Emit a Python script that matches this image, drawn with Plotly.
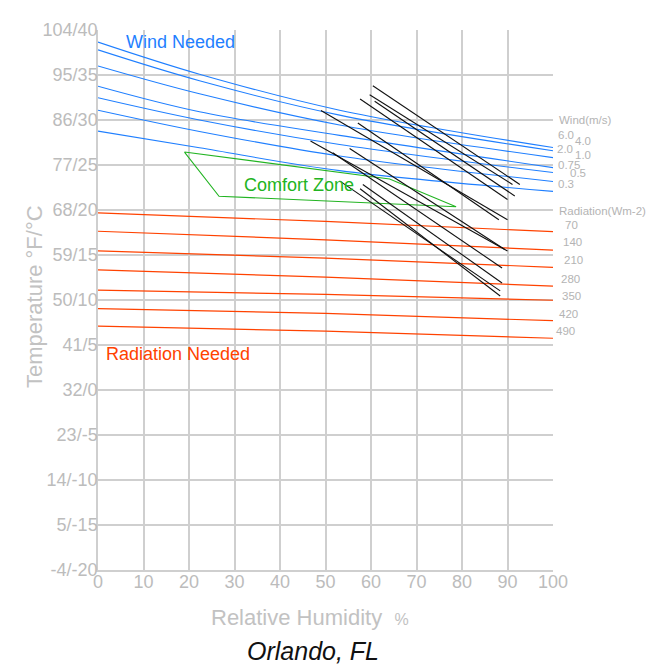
import plotly.graph_objects as go

# ---------------- data ----------------
# wind lines (m/s): temperature (degC) read at relative humidity points
wind_rh = [0, 22.3, 53.1, 100]
wind_labels = ["6.0", "4.0", "2.0", "1.0", "0.75", "0.5", "0.3"]
wind_temps = [
    [38.66, 35.09, 31.09, 26.94],
    [37.79, 34.36, 30.54, 26.58],
    [36.00, 32.91, 29.45, 25.82],
    [33.75, 30.91, 28.29, 24.71],
    [32.47, 30.00, 27.27, 24.16],
    [31.09, 28.73, 26.00, 23.17],
    [28.76, 26.91, 24.37, 22.07],
]

# radiation lines (W/m2)
rad_rh = [0, 50, 100]
rad_labels = ["70", "140", "210", "280", "350", "420", "490"]
rad_temps = [
    [19.68, 18.73, 17.59],
    [17.64, 16.69, 15.54],
    [15.45, 14.66, 13.63],
    [13.35, 12.54, 11.55],
    [11.09, 10.62, 9.97],
    [9.05, 8.51, 7.70],
    [7.09, 6.54, 5.75],
]

# comfort zone polygon
comfort_rh = [19.0, 64.1, 78.7, 26.6, 19.0]
comfort_t = [26.44, 23.45, 20.36, 21.53, 26.44]

# monthly climate lines: (RH min, T max) -> (RH max, T min)
months = ["Jan", "Feb", "Mar", "Apr", "May", "Jun",
          "Jul", "Aug", "Sep", "Oct", "Nov", "Dec"]
rh_min = [57.6, 53.1, 51.6, 46.7, 49.0, 57.6, 59.7, 60.4, 60.8, 57.1, 55.3, 58.2]
t_max = [22.36, 23.24, 26.36, 27.67, 31.05, 32.33, 32.81, 33.80, 32.08, 29.66, 26.83, 22.84]
rh_max = [88.4, 88.4, 88.8, 90.0, 90.0, 90.0, 91.1, 92.7, 91.6, 88.1, 89.4, 88.8]
t_min = [10.44, 11.01, 13.56, 15.45, 18.91, 21.16, 22.84, 22.84, 21.56, 18.91, 15.62, 11.89]

y_tickvals = [-20, -15, -10, -5, 0, 5, 10, 15, 20, 25, 30, 35, 40]
y_ticktext = ["-4/-20", "5/-15", "14/-10", "23/-5", "32/0", "41/5", "50/10",
              "59/15", "68/20", "77/25", "86/30", "95/35", "104/40"]
x_tickvals = [0, 10, 20, 30, 40, 50, 60, 70, 80, 90, 100]

# ---------------- styling ----------------
BLUE = "#1f7fff"
RED = "#ff4200"
GREEN = "#22b422"
GRID = "#cfcfcf"
TICK = "#bcbcbc"
LAB = "#b4b4b4"
FONT = "Liberation Sans, Arial, sans-serif"

fig = go.Figure()

for lab, temps in zip(wind_labels, wind_temps):
    fig.add_trace(go.Scatter(x=wind_rh, y=temps, mode="lines", name=lab,
                             line=dict(color=BLUE, width=1.1, shape="spline"),
                             hoverinfo="skip"))

for lab, temps in zip(rad_labels, rad_temps):
    fig.add_trace(go.Scatter(x=rad_rh, y=temps, mode="lines", name=lab,
                             line=dict(color=RED, width=1.2, shape="spline"),
                             hoverinfo="skip"))

fig.add_trace(go.Scatter(x=comfort_rh, y=comfort_t, mode="lines",
                         line=dict(color=GREEN, width=1.1), hoverinfo="skip"))

for i, m in enumerate(months):
    fig.add_trace(go.Scatter(x=[rh_min[i], rh_max[i]], y=[t_max[i], t_min[i]],
                             mode="lines", name=m,
                             line=dict(color="#111111", width=1.1),
                             hoverinfo="skip"))

# the page body adds an 8px margin; lay the figure out in page pixels minus it
OFF = 8
W, H = 660 - OFF, 668 - OFF
L = 98 - OFF
T = 20 - OFF
R = W - (553 - OFF)
B = H - (570 - OFF)
pw, ph = W - L - R, H - T - B


def px_x(px):
    return (px - OFF - L) / pw


def px_y(py):
    return (H - B - (py - OFF)) / ph


ann = []
# in-plot labels
ann.append(dict(x=px_x(124), y=px_y(32), xref="paper", yref="paper", text="Wind Needed",
                xanchor="left", yanchor="middle", showarrow=False,
                font=dict(color=BLUE, size=18, family=FONT)))
ann.append(dict(x=px_x(104), y=px_y(350), xref="paper", yref="paper", text="Radiation Needed",
                xanchor="left", yanchor="middle", showarrow=False,
                font=dict(color=RED, size=18, family=FONT)))
ann.append(dict(x=px_x(242), y=px_y(178), xref="paper", yref="paper", text="Comfort Zone",
                xanchor="left", yanchor="middle", showarrow=False,
                font=dict(color=GREEN, size=18, family=FONT)))

# right side labels
ann.append(dict(x=px_x(557), y=px_y(112), xref="paper", yref="paper", text="Wind(m/s)",
                xanchor="left", yanchor="middle", showarrow=False,
                font=dict(color=LAB, size=11.5, family=FONT)))
wind_lab_pos = [(556, 126.6), (573, 133), (555, 141), (573, 147),
                (555.5, 157), (568, 166), (555.5, 177)]
for lab, (lx, ly) in zip(wind_labels, wind_lab_pos):
    ann.append(dict(x=px_x(lx), y=px_y(ly), xref="paper", yref="paper", text=lab,
                    xanchor="left", yanchor="middle", showarrow=False,
                    font=dict(color=LAB, size=11.5, family=FONT)))
ann.append(dict(x=px_x(557), y=px_y(204), xref="paper", yref="paper",
                text="Radiation(Wm-2)", xanchor="left", yanchor="middle", showarrow=False,
                font=dict(color=LAB, size=11.5, family=FONT)))
rad_lab_pos = [(571.5, 218.7), (572, 235.5), (573, 254), (570, 273.5),
               (571.5, 290.6), (568, 309), (565, 326.6)]
for lab, (lx, ly) in zip(rad_labels, rad_lab_pos):
    ann.append(dict(x=px_x(lx), y=px_y(ly), xref="paper", yref="paper", text=lab,
                    xanchor="center", yanchor="middle", showarrow=False,
                    font=dict(color=LAB, size=11.5, family=FONT)))

# axis titles and chart title
ann.append(dict(x=px_x(310), y=px_y(618), xref="paper", yref="paper",
                text="Relative Humidity  <span style='font-size:16px'>%</span>",
                xanchor="center", yanchor="middle", showarrow=False,
                font=dict(color="#c2c2c2", size=22, family=FONT)))
ann.append(dict(x=px_x(34), y=px_y(292), xref="paper", yref="paper",
                text="Temperature °F/°C", textangle=-90,
                xanchor="center", yanchor="middle", showarrow=False,
                font=dict(color="#c2c2c2", size=22, family=FONT)))
ann.append(dict(x=px_x(313), y=px_y(652), xref="paper", yref="paper",
                text="<i>Orlando, FL</i>",
                xanchor="center", yanchor="middle", showarrow=False,
                font=dict(color="#111111", size=25, family=FONT)))

fig.update_layout(
    width=W, height=H,
    margin=dict(l=L, r=R, t=T, b=B, pad=0),
    paper_bgcolor="white", plot_bgcolor="white",
    showlegend=False,
    annotations=ann,
    xaxis=dict(range=[0, 100], tickvals=x_tickvals, showgrid=True,
               gridcolor=GRID, gridwidth=1.5, zeroline=False,
               showline=True, linecolor=GRID, linewidth=1.5, mirror=False,
               ticks="", ticklabelstandoff=-5,
               tickfont=dict(color=TICK, size=18, family=FONT),
               fixedrange=True),
    yaxis=dict(range=[-20, 40], tickvals=y_tickvals, ticktext=y_ticktext,
               showgrid=True, gridcolor=GRID, gridwidth=1.5, zeroline=False,
               showline=True, linecolor=GRID, linewidth=1.5,
               ticks="", ticklabelstandoff=-5,
               tickfont=dict(color=TICK, size=18, family=FONT),
               fixedrange=True),
)

fig.write_html("out.html")
